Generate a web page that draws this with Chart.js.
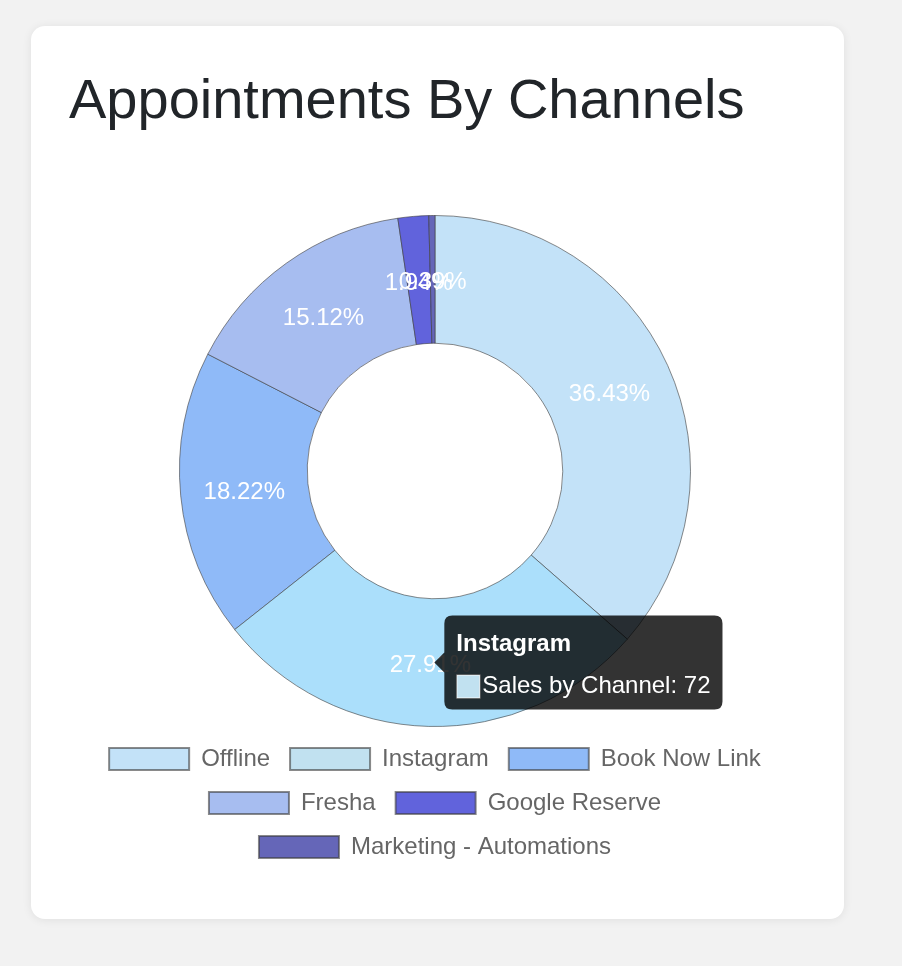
<!DOCTYPE html>
<html><head><meta charset="utf-8">
<script src="https://cdn.jsdelivr.net/npm/chart.js@4.4.0/dist/chart.umd.min.js"></script>
<style>
html,body{margin:0;padding:0;background:#f2f2f2;}
body{width:902px;height:966px;position:relative;overflow:hidden;font-family:'Liberation Sans',Arial,sans-serif;}
.card{position:absolute;left:31px;top:26px;width:813px;height:893px;background:#fff;border-radius:14px;box-shadow:0 1px 10px rgba(0,0,0,0.08);}
.title{position:absolute;left:69px;top:71px;margin:0;font-size:56px;line-height:56px;font-weight:normal;color:#212529;white-space:nowrap;}
.chartbox{position:absolute;left:69px;top:215px;width:732px;height:654px;}
</style></head><body>
<div class="card"></div>
<h1 class="title">Appointments By Channels</h1>
<div class="chartbox"><canvas id="c"></canvas></div>
<script>
const categories = ['Offline', 'Instagram', 'Book Now Link', 'Fresha', 'Google Reserve', 'Marketing - Automations'];
const salesByChannel = [94, 72, 47, 39, 5, 1];
const seriesLabel = 'Sales by Channel';
const sliceColors = ['#c3e2f8', '#c1e1f0', '#8fbaf8', '#a7bdf0', '#6163dc', '#6566b8'];
const hoverColors = ['#b0dcf9', '#abdffb', '#7eaff8', '#95b0ef', '#5052d8', '#5556b0'];
const activeIndex = 1;

Chart.defaults.font.family = "'Liberation Sans', Arial, Helvetica, sans-serif";

const pctLabels = {
  id: 'pctLabels',
  afterDatasetsDraw(chart) {
    const ctx = chart.ctx;
    const meta = chart.getDatasetMeta(0);
    const data = chart.data.datasets[0].data;
    const total = data.reduce((a, b) => a + b, 0);
    ctx.save();
    ctx.font = "24px 'Liberation Sans', Arial, sans-serif";
    ctx.fillStyle = '#ffffff';
    ctx.textAlign = 'center';
    ctx.textBaseline = 'middle';
    meta.data.forEach((el, i) => {
      const p = el.tooltipPosition(true);
      ctx.fillText((data[i] / total * 100).toFixed(2) + '%', p.x, p.y + 3);
    });
    ctx.restore();
  }
};

const chart = new Chart(document.getElementById('c'), {
  type: 'doughnut',
  data: {
    labels: categories,
    datasets: [{
      label: seriesLabel,
      data: salesByChannel,
      backgroundColor: sliceColors,
      hoverBackgroundColor: hoverColors,
      borderColor: 'rgba(60,60,60,0.6)',
      hoverBorderColor: 'rgba(60,60,60,0.6)',
      borderWidth: 1,
      hoverBorderWidth: 1,
      hoverOffset: 0
    }]
  },
  options: {
    responsive: true,
    maintainAspectRatio: false,
    animation: false,
    cutout: '50%',
    events: [],
    layout: { padding: 0 },
    plugins: {
      legend: {
        position: 'bottom',
        labels: {
          boxWidth: 80,
          boxHeight: 22,
          padding: 20,
          color: '#666',
          font: { size: 24 },
          generateLabels(chart) {
            return chart.data.labels.map((l, i) => ({
              text: l,
              fillStyle: sliceColors[i],
              strokeStyle: 'rgba(60,60,60,0.6)',
              lineWidth: 2,
              hidden: false,
              index: i,
              fontColor: '#666'
            }));
          }
        }
      },
      tooltip: {
        backgroundColor: 'rgba(0,0,0,0.8)',
        titleFont: { size: 24, weight: 'bold', lineHeight: 1 },
        bodyFont: { size: 24, lineHeight: 1 },
        titleColor: '#fff',
        bodyColor: '#fff',
        titleMarginBottom: 18,
        padding: { top: 17, bottom: 11, left: 12, right: 12 },
        cornerRadius: 8,
        caretSize: 10,
        caretPadding: 4,
        xAlign: 'left',
        yAlign: 'center',
        displayColors: true,
        boxWidth: 24,
        boxHeight: 24,
        boxPadding: 0,
        callbacks: {
          label(ctx) { return ctx.dataset.label + ': ' + ctx.parsed; },
          labelColor(ctx) {
            return { borderColor: 'rgba(60,60,60,0.6)', backgroundColor: sliceColors[ctx.dataIndex], borderWidth: 1 };
          }
        }
      }
    }
  },
  plugins: [pctLabels]
});

chart.tooltip.setActiveElements([{ datasetIndex: 0, index: activeIndex }], { x: 0, y: 0 });
chart.setActiveElements([{ datasetIndex: 0, index: activeIndex }]);
chart.draw();
</script>
</body></html>
